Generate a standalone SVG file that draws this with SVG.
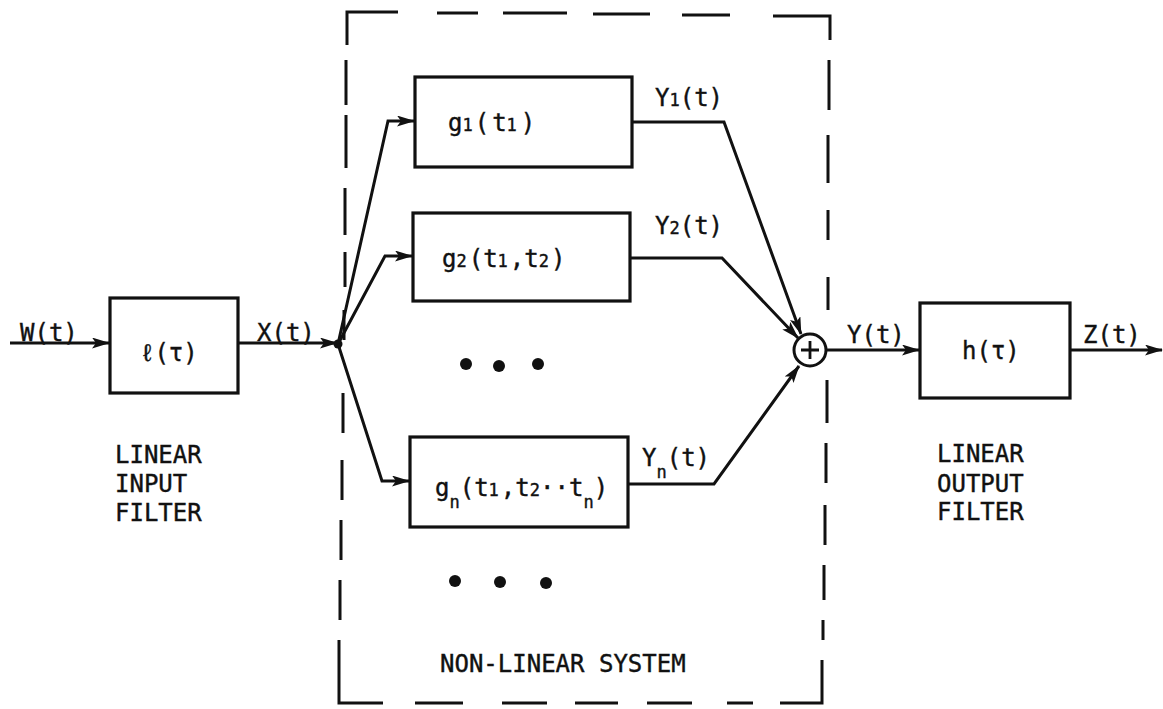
<svg xmlns="http://www.w3.org/2000/svg" width="1163" height="709" viewBox="0 0 1163 709">
<defs>
<marker id="ah" viewBox="0 0 18 11" refX="17" refY="5.5" markerWidth="18" markerHeight="11" markerUnits="userSpaceOnUse" orient="auto">
<path d="M0,0 L18,5.5 L0,11 L4,5.5 z" fill="#111"/>
</marker>
<style>
.box{fill:none;stroke:#111;stroke-width:3.2}
.ln{fill:none;stroke:#111;stroke-width:3;stroke-linejoin:miter}
.ar{marker-end:url(#ah)}
.dash{fill:none;stroke:#111;stroke-width:3}
.t{font-family:"DejaVu Sans Mono","Liberation Mono",monospace;font-size:24px;fill:#111;stroke:#111;stroke-width:0.4}
.s{font-size:17px}
.lb{font-family:"DejaVu Sans Mono","Liberation Mono",monospace;font-size:24px;fill:#111;stroke:#111;stroke-width:0.4}
</style>
</defs>
<rect width="1163" height="709" fill="#fff"/>

<g id="nonlinear-system">
<path class="dash" d="M347,45 V12 H398 M437,13 H478 M503,13 H567 M593,14 H650 M682,15 H730 M773,16 H830 V40"/>
<path class="dash" d="M346,60 V105 M346,115 V168 M345,188 V235 M345,252 V287 M344,310 V340 M343,393 V433 M342,460 V500 M341,520 V560 M340,580 V620 M339,640 V703 H383 M415,703 H463 M502,703 H547 M575,703 H618 M647,703 H692 M727,703 H753 M780,703 H822 V660"/>
<path class="dash" d="M829,60 V110 M828,135 V183 M828,210 V240 M828,277 V310 M827,380 V423 M826,443 V483 M825,505 V545 M824,565 V600 M823,620 V640"/>
<text class="lb" x="440" y="672">NON-LINEAR SYSTEM</text>
</g>

<g id="input-filter">
<rect class="box" x="110" y="298" width="128" height="95"/>
<text class="t" x="140" y="361">ℓ(τ)</text>
<text class="lb" x="115" y="463">LINEAR</text>
<text class="lb" x="115" y="492">INPUT</text>
<text class="lb" x="115" y="521">FILTER</text>
</g>

<g id="g1">
<rect class="box" x="415" y="77" width="217" height="90"/>
<text class="t" x="448" y="131">g<tspan class="s">1</tspan><tspan dx="2">(</tspan><tspan dx="3">t</tspan><tspan class="s">1</tspan><tspan dx="4">)</tspan></text>
</g>

<g id="g2">
<rect class="box" x="413" y="213" width="217" height="88"/>
<text class="t" x="442" y="267">g<tspan class="s">2</tspan><tspan dx="2">(</tspan>t<tspan class="s">1</tspan><tspan dx="2">,</tspan>t<tspan class="s">2</tspan><tspan dx="2">)</tspan></text>
</g>

<g id="dots-1">
<circle cx="466" cy="364" r="6" fill="#111"/>
<circle cx="499" cy="366" r="6" fill="#111"/>
<circle cx="538" cy="364" r="6" fill="#111"/>
</g>

<g id="gn">
<rect class="box" x="410" y="437" width="218" height="90"/>
<text class="t" x="435" y="496">g<tspan class="s" dy="12">n</tspan><tspan dy="-12">(t</tspan><tspan class="s">1</tspan><tspan dx="2">,</tspan>t<tspan class="s">2</tspan>··t<tspan class="s" dy="12">n</tspan><tspan dy="-12">)</tspan></text>
</g>

<g id="dots-2">
<circle cx="455" cy="581" r="6" fill="#111"/>
<circle cx="500" cy="582" r="6" fill="#111"/>
<circle cx="546" cy="583" r="6" fill="#111"/>
</g>

<g id="sum">
<circle cx="810" cy="350" r="16" fill="#fff" stroke="#111" stroke-width="3"/>
<path d="M810,341 V359 M801,350 H819" stroke="#111" stroke-width="2.8"/>
</g>

<g id="output-filter">
<rect class="box" x="920" y="303" width="150" height="95"/>
<text class="t" x="962" y="359">h(τ)</text>
<text class="lb" x="937" y="462">LINEAR</text>
<text class="lb" x="937" y="492">OUTPUT</text>
<text class="lb" x="937" y="520">FILTER</text>
</g>

<g id="connectors">
<path class="ln ar" d="M10,343 H109"/>
<path class="ln ar" d="M238,343 H337"/>
<circle cx="338" cy="344" r="4.5" fill="#111"/>
<path class="ln ar" d="M338,344 L388,121 H414"/>
<path class="ln ar" d="M338,344 L385,256 H412"/>
<path class="ln ar" d="M338,344 L382,481 H409"/>
<path class="ln ar" d="M632,122 H724 L801,334"/>
<path class="ln ar" d="M630,258 H722 L798,338"/>
<path class="ln ar" d="M628,484 H714 L799,366"/>
<path class="ln ar" d="M826,350 H919"/>
<path class="ln ar" d="M1070,350 H1162"/>
<text class="t" x="20" y="341">W(t)</text>
<text class="t" x="257" y="341">X(t)</text>
<text class="t" x="655" y="106">Y<tspan class="s">1</tspan>(t)</text>
<text class="t" x="655" y="234">Y<tspan class="s">2</tspan>(t)</text>
<text class="t" x="642" y="466">Y<tspan class="s" dy="12">n</tspan><tspan dy="-12">(t)</tspan></text>
<text class="t" x="847" y="343">Y(t)</text>
<text class="t" x="1083" y="343">Z(t)</text>
</g>
</svg>
